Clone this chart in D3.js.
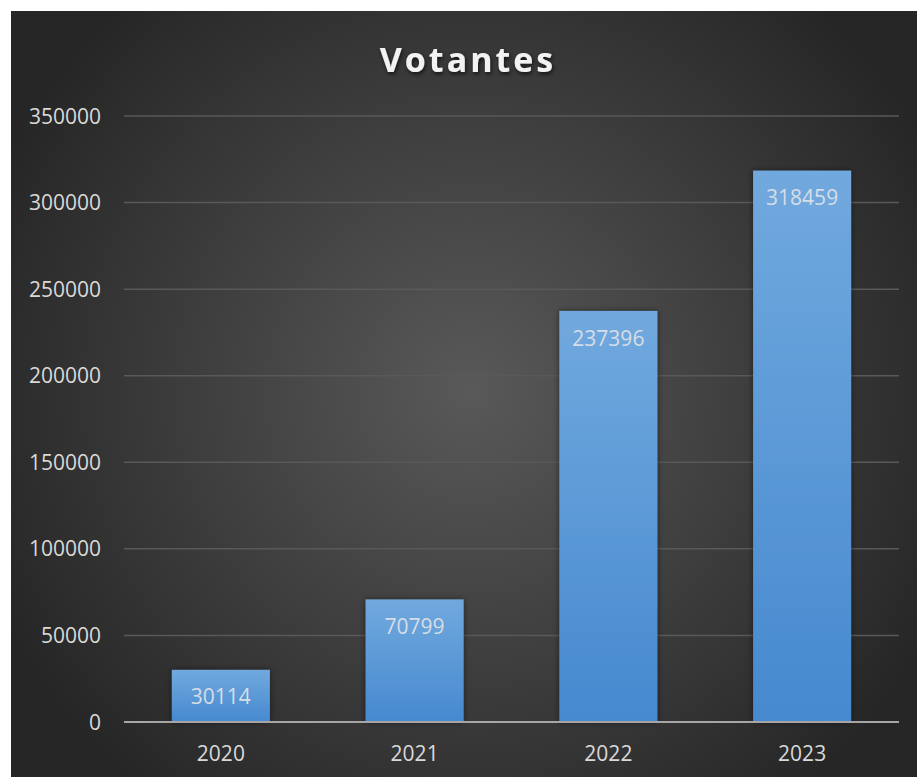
<!DOCTYPE html>
<html><head><meta charset="utf-8">
<script src="https://cdn.jsdelivr.net/npm/d3@7"></script>
<style>html,body{margin:0;padding:0;background:#fff;}svg{display:block;}</style>
</head><body>
<script>
const categories = ["2020", "2021", "2022", "2023"];
const values = [30114, 70799, 237396, 318459];
const yTicks = [0, 50000, 100000, 150000, 200000, 250000, 300000, 350000];
const title = "Votantes";

const W = 917, H = 777;
const svg = d3.select("body").append("svg").attr("width", W).attr("height", H);
const defs = svg.append("defs");
const rg = defs.append("radialGradient").attr("id","bg").attr("gradientUnits","userSpaceOnUse")
  .attr("cx",470).attr("cy",390).attr("r",520);
rg.append("stop").attr("offset","0%").attr("stop-color","#595959");
rg.append("stop").attr("offset","100%").attr("stop-color","#262626");
const bg = defs.append("linearGradient").attr("id","bar").attr("x1",0).attr("y1",0).attr("x2",0).attr("y2",1);
bg.append("stop").attr("offset","0%").attr("stop-color","#71a9de");
bg.append("stop").attr("offset","100%").attr("stop-color","#4689cf");
const sh = defs.append("filter").attr("id","sh").attr("x","-20%").attr("y","-20%").attr("width","140%").attr("height","140%");
sh.append("feDropShadow").attr("dx",0).attr("dy",0).attr("stdDeviation",3).attr("flood-color","#000").attr("flood-opacity",0.5);
const tsh = defs.append("filter").attr("id","tsh").attr("x","-20%").attr("y","-40%").attr("width","140%").attr("height","180%");
tsh.append("feDropShadow").attr("dx",1).attr("dy",2).attr("stdDeviation",2).attr("flood-color","#000").attr("flood-opacity",0.7);

svg.append("rect").attr("x",11).attr("y",11).attr("width",W-11).attr("height",H-11).attr("fill","url(#bg)");

const x = d3.scaleBand().domain(categories).range([124, 899]).paddingInner(0.494).paddingOuter(0.247);
const y = d3.scaleLinear().domain([0, 350000]).range([722, 116]);

const font = "'Open Sans', 'Noto Sans', sans-serif";

// gridlines
svg.append("g").selectAll("line").data(yTicks.filter(d=>d>0)).join("line")
  .attr("x1",124).attr("x2",899).attr("y1",d=>y(d)).attr("y2",d=>y(d))
  .attr("stroke","#595959").attr("stroke-width",1.5);

// y tick labels
svg.append("g").selectAll("text").data(yTicks).join("text")
  .attr("x",101).attr("y",d=>y(d)).attr("dy","0.36em").attr("text-anchor","end")
  .attr("font-family",font).attr("font-size",21).attr("fill","#d9d9d9").text(d=>d);

// bars
svg.append("g").selectAll("rect").data(values).join("rect")
  .attr("x",(d,i)=>x(categories[i])).attr("width",x.bandwidth())
  .attr("y",d=>y(d)).attr("height",d=>y(0)-y(d))
  .attr("fill","url(#bar)").attr("filter","url(#sh)");

// axis line
svg.append("line").attr("x1",124).attr("x2",899).attr("y1",y(0)).attr("y2",y(0))
  .attr("stroke","#a6a6a6").attr("stroke-width",2);

// value labels
svg.append("g").selectAll("text").data(values).join("text")
  .attr("x",(d,i)=>x(categories[i])+x.bandwidth()/2).attr("y",d=>y(d)+27).attr("dy","0.36em")
  .attr("text-anchor","middle").attr("font-family",font).attr("font-size",21).attr("fill","#d6dde6").text(d=>d);

// category labels
svg.append("g").selectAll("text").data(categories).join("text")
  .attr("x",d=>x(d)+x.bandwidth()/2).attr("y",753).attr("dy","0.36em").attr("text-anchor","middle")
  .attr("font-family",font).attr("font-size",21).attr("fill","#d9d9d9").text(d=>d);

// title
svg.append("text").attr("x",468).attr("y",60).attr("dy","0.36em").attr("text-anchor","middle")
  .attr("font-family",font).attr("font-weight","bold").attr("font-size",34).attr("letter-spacing",3)
  .attr("fill","#f2f2f2").attr("filter","url(#tsh)").text(title);
</script>
</body></html>
